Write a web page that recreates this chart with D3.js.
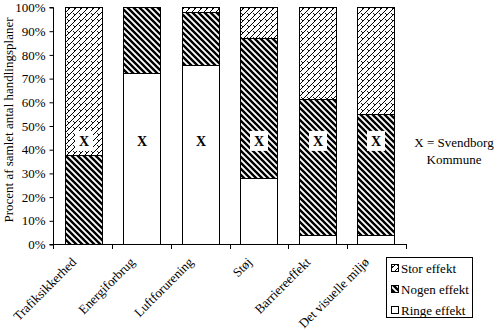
<!DOCTYPE html>
<html><head><meta charset="utf-8">
<script src="https://cdn.jsdelivr.net/npm/d3@7"></script>
<style>
body{margin:0;background:#fff;}
svg{display:block;}
svg text{font-family:"Liberation Serif","Times New Roman",serif !important;fill:#000;}
</style></head>
<body>
<svg id="chart" width="500" height="330"></svg>
<script>
const categories = ["Trafiksikkerhed","Energiforbrug","Luftforurening","Støj","Barriereeffekt","Det visuelle miljø"];
const ringeEffekt = [0, 72, 75.5, 28, 4, 4];
const nogenEffekt = [37.5, 28, 22.5, 59, 57, 51];
const storEffekt  = [62.5, 0, 2, 13, 39, 45];
const svendborgMark = [43.5, 43.5, 43.5, 43.5, 43.5, 43.5];
const yTicks = [0,10,20,30,40,50,60,70,80,90,100];
const seriesNames = ["Stor effekt","Nogen effekt","Ringe effekt"];

const svg = d3.select("#chart");
const defs = svg.append("defs");

const pStor = defs.append("pattern").attr("id","pStor").attr("patternUnits","userSpaceOnUse")
  .attr("width",6).attr("height",6);
pStor.append("rect").attr("width",6).attr("height",6).attr("fill","#fff");
pStor.append("path").attr("d","M-1,7 L7,-1 M-1,1 L1,-1 M5,7 L7,5").attr("stroke","#000").attr("stroke-width",1).attr("fill","none");
pStor.append("path").attr("d","M1,1 L3,3").attr("stroke","#000").attr("stroke-width",0.9).attr("fill","none");

const pNogen = defs.append("pattern").attr("id","pNogen").attr("patternUnits","userSpaceOnUse")
  .attr("width",6).attr("height",6);
pNogen.append("rect").attr("width",6).attr("height",6).attr("fill","#fff");
pNogen.append("path").attr("d","M-1,-1 L7,7 M-4,2 L2,8 M4,-2 L10,4").attr("stroke","#000").attr("stroke-width",2.4).attr("fill","none");

const fills = {"Stor effekt":"url(#pStor)","Nogen effekt":"url(#pNogen)","Ringe effekt":"#fff"};

const x = d3.scaleBand().domain(categories).range([53,406]).paddingInner(0.37).paddingOuter(0.2);
const y = d3.scaleLinear().domain([0,100]).range([244,7]);

const rows = categories.map((c,i)=>({cat:c,"Ringe effekt":ringeEffekt[i],"Nogen effekt":nogenEffekt[i],"Stor effekt":storEffekt[i]}));
const stacked = d3.stack().keys(["Ringe effekt","Nogen effekt","Stor effekt"])(rows);

const g = svg.append("g");
stacked.forEach(s=>{
  g.selectAll(null).data(s).enter().append("rect")
    .attr("x",d=>Math.round(x(d.data.cat))+0.5)
    .attr("y",d=>Math.round(y(d[1]))+0.5)
    .attr("width",Math.round(x.bandwidth()))
    .attr("height",d=>Math.round(y(d[0]))-Math.round(y(d[1])))
    .attr("fill",fills[s.key])
    .attr("stroke","#000").attr("stroke-width",1)
    .style("display",d=>(d[1]-d[0])>0?null:"none");
});

svendborgMark.forEach((v,i)=>{
  const cx = Math.round(x(categories[i])) + Math.round(x.bandwidth())/2 + 0.5;
  const cy = y(v);
  g.append("rect").attr("x",cx-9).attr("y",cy-10).attr("width",18).attr("height",20).attr("fill","#fff");
  g.append("text").attr("x",cx).attr("y",cy+5).attr("text-anchor","middle")
    .attr("font-size",14).attr("font-weight","bold").text("X");
});

const yAxis = d3.axisLeft(y).tickValues(yTicks).tickFormat(d=>d+"%").tickSize(4).tickPadding(4);
const ya = svg.append("g").attr("transform","translate(53.5,0.5)").call(yAxis);
ya.attr("font-family",null);
ya.selectAll("text").attr("font-size",13);
ya.selectAll("path,line").attr("stroke","#000");
ya.select(".domain").attr("d","M-4,"+y(100)+"H0V"+y(0)+"H-4");

const xa = svg.append("g");
xa.append("line").attr("x1",53).attr("x2",406).attr("y1",244.5).attr("y2",244.5).attr("stroke","#000");
const step = x.step();
const x0 = 53;
d3.range(categories.length+1).forEach(i=>{
  const b = Math.round(x0 + i*(406-53)/categories.length)+0.5;
  xa.append("line").attr("x1",b).attr("x2",b).attr("y1",244).attr("y2",249).attr("stroke","#000");
});
categories.forEach(c=>{
  const cx = x(c)+x.bandwidth()/2;
  xa.append("text").attr("transform",`translate(${cx-6},263) rotate(-45)`)
    .attr("text-anchor","end").attr("font-size",13).text(c);
});

svg.append("text").attr("transform","translate(13,120) rotate(-90)")
  .attr("text-anchor","middle").attr("font-size",13).text("Procent af samlet antal handlingsplaner");

svg.append("text").attr("x",454).attr("y",147).attr("text-anchor","middle").attr("font-size",13).text("X = Svendborg");
svg.append("text").attr("x",454).attr("y",164).attr("text-anchor","middle").attr("font-size",13).text("Kommune");

const lg = svg.append("g");
lg.append("rect").attr("x",386.5).attr("y",257.5).attr("width",86).attr("height",60).attr("fill","#fff").attr("stroke","#000");
seriesNames.forEach((n,i)=>{
  const yy = 273 + i*21;
  lg.append("rect").attr("x",391.5).attr("y",yy-8.5).attr("width",7).attr("height",7).attr("fill",fills[n]).attr("stroke","#000");
  lg.append("text").attr("x",401).attr("y",yy).attr("font-size",13).text(n);
});
</script>
</body></html>
